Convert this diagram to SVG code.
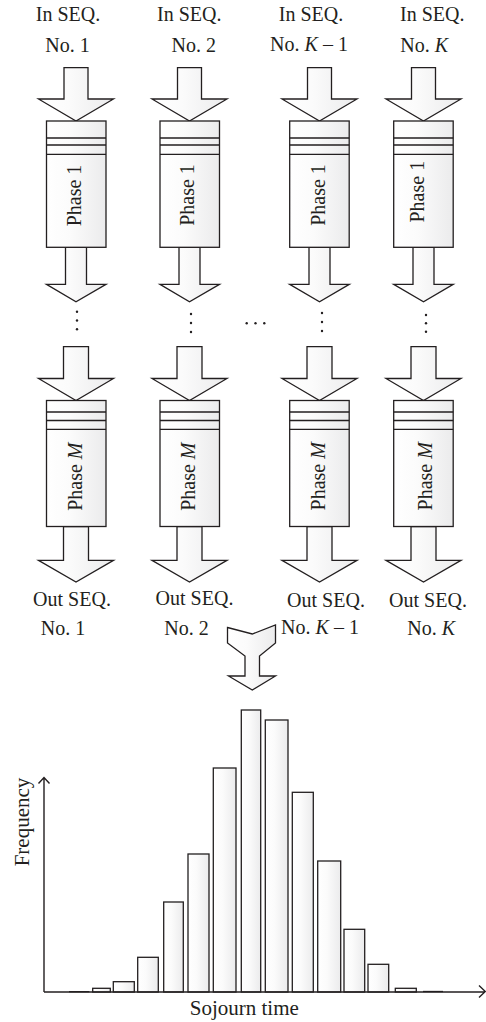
<svg xmlns="http://www.w3.org/2000/svg" width="486" height="1022" viewBox="0 0 486 1022">
  <defs>
    <linearGradient id="shade" x1="0" y1="0" x2="1" y2="0">
      <stop offset="0" stop-color="#ffffff"/>
      <stop offset="0.4" stop-color="#fbfbfb"/>
      <stop offset="1" stop-color="#ebebec"/>
    </linearGradient>
  </defs>
  <style>
    .shape { fill: url(#shade); stroke: #231f20; stroke-width: 1.3; stroke-linejoin: miter; }
    .rule { stroke: #231f20; stroke-width: 1.3; fill: none; }
    .lbl { font-family: "Liberation Serif", "Times New Roman", serif; font-size: 20px; fill: #231f20; }
    .mid { text-anchor: middle; }
    .it { font-style: italic; }
    .dot { fill: #231f20; }
    .axis { stroke: #231f20; stroke-width: 1.4; fill: none; }
  </style>

  <rect width="486" height="1022" fill="#ffffff"/>

  <!-- Input labels -->
  <g id="labels-in">
    <text class="lbl mid" x="68" y="21">In SEQ.</text>
    <text class="lbl mid" x="67.5" y="51.5">No. 1</text>
    <text class="lbl mid" x="189.3" y="21">In SEQ.</text>
    <text class="lbl mid" x="193.8" y="51.5">No. 2</text>
    <text class="lbl mid" x="311" y="21">In SEQ.</text>
    <text class="lbl mid" x="309" y="51">No. <tspan class="it">K</tspan> – 1</text>
    <text class="lbl mid" x="432.3" y="21">In SEQ.</text>
    <text class="lbl" x="400.3" y="51.5">No. <tspan class="it">K</tspan></text>
  </g>

  <!-- Connectors: block arrows between stages -->
  <g id="connectors">
    <!-- into phase 1 -->
    <path class="shape" d="M64,67.7 H88 V99 H113.5 L76,121 L38.5,99 H64 Z"/>
    <path class="shape" d="M177.5,67.7 H201.5 V99 H227 L189.5,121 L152,99 H177.5 Z"/>
    <path class="shape" d="M307.5,67.7 H331.5 V99 H357 L319.5,121 L282,99 H307.5 Z"/>
    <path class="shape" d="M411.5,67.7 H435.5 V99 H461 L423.5,121 L386,99 H411.5 Z"/>
    <!-- out of phase 1 -->
    <path class="shape" d="M65.5,247.3 H86.5 V284.3 H106 L76,301.7 L46.5,284.3 H65.5 Z"/>
    <path class="shape" d="M179,247.3 H200 V284.3 H219.5 L189.5,301.7 L160,284.3 H179 Z"/>
    <path class="shape" d="M309,247.3 H330 V284.3 H349.3 L319.5,301.7 L289.7,284.3 H309 Z"/>
    <path class="shape" d="M413,247.3 H434 V284.3 H453.2 L423.5,301.7 L393.7,284.3 H413 Z"/>
    <!-- into phase M -->
    <path class="shape" d="M63.5,346.7 H88.5 V378.5 H113.5 L76,400.5 L38.5,378.5 H63.5 Z"/>
    <path class="shape" d="M177,346.7 H202 V378.5 H227 L189.5,400.5 L152,378.5 H177 Z"/>
    <path class="shape" d="M307,346.7 H332 V378.5 H357 L319.5,400.5 L282,378.5 H307 Z"/>
    <path class="shape" d="M411,346.7 H436 V378.5 H461 L423.5,400.5 L386,378.5 H411 Z"/>
    <!-- out of phase M -->
    <path class="shape" d="M63.5,526.5 H88.5 V560.3 H113.5 L76,582 L38.5,560.3 H63.5 Z"/>
    <path class="shape" d="M177,526.5 H202 V560.3 H227 L189.5,582 L152,560.3 H177 Z"/>
    <path class="shape" d="M307,526.5 H332 V560.3 H357 L319.5,582 L282,560.3 H307 Z"/>
    <path class="shape" d="M411,526.5 H436 V560.3 H461 L423.5,582 L386,560.3 H411 Z"/>
    <!-- merge of all output sequences into the histogram -->
    <path class="shape" d="M227.5,627.5 L252.3,634 L275.5,625 V643 L259.5,656 V676 H275.5 L252.3,690 L228.5,676 H245 V656 L227.5,643 Z"/>
  </g>

  <!-- Phase 1 stations -->
  <g id="phase1-seq1">
    <rect class="shape" x="46.5" y="121" width="59.5" height="126.3"/>
    <path class="rule" d="M46.5,138 H106 M46.5,145 H106 M46.5,154.3 H106"/>
    <text class="lbl mid" transform="translate(81,195.5) rotate(-90)">Phase 1</text>
  </g>
  <g id="phase1-seq2">
    <rect class="shape" x="160" y="121" width="59.5" height="126.3"/>
    <path class="rule" d="M160,138 H219.5 M160,145 H219.5 M160,154.3 H219.5"/>
    <text class="lbl mid" transform="translate(194,195) rotate(-90)">Phase 1</text>
  </g>
  <g id="phase1-seqK-1">
    <rect class="shape" x="289.7" y="121" width="59.5" height="126.3"/>
    <path class="rule" d="M289.7,138 H349.2 M289.7,145 H349.2 M289.7,154.3 H349.2"/>
    <text class="lbl mid" transform="translate(325,195) rotate(-90)">Phase 1</text>
  </g>
  <g id="phase1-seqK">
    <rect class="shape" x="393.7" y="121" width="59.5" height="126.3"/>
    <path class="rule" d="M393.7,138 H453.2 M393.7,145 H453.2 M393.7,154.3 H453.2"/>
    <text class="lbl mid" transform="translate(423.5,191.7) rotate(-90)">Phase 1</text>
  </g>

  <!-- Intermediate phases elided -->
  <g id="ellipsis">
    <circle class="dot" cx="77" cy="311.7" r="1.2"/>
    <circle class="dot" cx="77" cy="320.5" r="1.2"/>
    <circle class="dot" cx="77" cy="329.3" r="1.2"/>
    <circle class="dot" cx="191" cy="314" r="1.2"/>
    <circle class="dot" cx="191" cy="323" r="1.2"/>
    <circle class="dot" cx="191" cy="332" r="1.2"/>
    <circle class="dot" cx="322" cy="313" r="1.2"/>
    <circle class="dot" cx="322" cy="322" r="1.2"/>
    <circle class="dot" cx="322" cy="331" r="1.2"/>
    <circle class="dot" cx="426" cy="315" r="1.2"/>
    <circle class="dot" cx="426" cy="323.3" r="1.2"/>
    <circle class="dot" cx="426" cy="331.7" r="1.2"/>
    <circle class="dot" cx="246.7" cy="323.3" r="1.2"/>
    <circle class="dot" cx="255.5" cy="323.3" r="1.2"/>
    <circle class="dot" cx="264.3" cy="323.3" r="1.2"/>
  </g>

  <!-- Phase M stations -->
  <g id="phaseM-seq1">
    <rect class="shape" x="46.5" y="400.5" width="59.5" height="126"/>
    <path class="rule" d="M46.5,412 H106 M46.5,420.5 H106 M46.5,429.3 H106"/>
    <text class="lbl mid" transform="translate(81.5,476.7) rotate(-90)">Phase <tspan class="it">M</tspan></text>
  </g>
  <g id="phaseM-seq2">
    <rect class="shape" x="160" y="400.5" width="59.5" height="126"/>
    <path class="rule" d="M160,412 H219.5 M160,420.5 H219.5 M160,429.3 H219.5"/>
    <text class="lbl mid" transform="translate(194.5,476.7) rotate(-90)">Phase <tspan class="it">M</tspan></text>
  </g>
  <g id="phaseM-seqK-1">
    <rect class="shape" x="289.7" y="400.5" width="59.5" height="126"/>
    <path class="rule" d="M289.7,412 H349.2 M289.7,420.5 H349.2 M289.7,429.3 H349.2"/>
    <text class="lbl mid" transform="translate(325,476.3) rotate(-90)">Phase <tspan class="it">M</tspan></text>
  </g>
  <g id="phaseM-seqK">
    <rect class="shape" x="393.7" y="400.5" width="59.5" height="126"/>
    <path class="rule" d="M393.7,412 H453.2 M393.7,420.5 H453.2 M393.7,429.3 H453.2"/>
    <text class="lbl mid" transform="translate(432,476.3) rotate(-90)">Phase <tspan class="it">M</tspan></text>
  </g>

  <!-- Output labels -->
  <g id="labels-out">
    <text class="lbl mid" x="72" y="605.5">Out SEQ.</text>
    <text class="lbl mid" x="63" y="635">No. 1</text>
    <text class="lbl mid" x="194.5" y="605">Out SEQ.</text>
    <text class="lbl mid" x="186.5" y="635">No. 2</text>
    <text class="lbl mid" x="326" y="607">Out SEQ.</text>
    <text class="lbl mid" x="320" y="633.5">No. <tspan class="it">K</tspan> – 1</text>
    <text class="lbl mid" x="428" y="607">Out SEQ.</text>
    <text class="lbl" x="407.3" y="635">No. <tspan class="it">K</tspan></text>
  </g>

  <!-- Sojourn time histogram -->
  <g id="histogram">
    <g id="bars">
      <path class="rule" d="M69,991.7 H89.3" stroke-width="1.6"/>
      <rect class="shape" x="92.7" y="988.3" width="17.6" height="3.7"/>
      <rect class="shape" x="113.3" y="981.7" width="21" height="10.3"/>
      <rect class="shape" x="137.7" y="957.3" width="20.6" height="34.7"/>
      <rect class="shape" x="163.7" y="902" width="19.6" height="90"/>
      <rect class="shape" x="188" y="854" width="21" height="138"/>
      <rect class="shape" x="213.3" y="768" width="22.7" height="224"/>
      <rect class="shape" x="241.3" y="710" width="19.4" height="282"/>
      <rect class="shape" x="265.3" y="720" width="22.7" height="272"/>
      <rect class="shape" x="292.3" y="792.3" width="21" height="199.7"/>
      <rect class="shape" x="317.7" y="861" width="23" height="131"/>
      <rect class="shape" x="344" y="929.3" width="20.7" height="62.7"/>
      <rect class="shape" x="368" y="964.3" width="20.7" height="27.7"/>
      <rect class="shape" x="395.3" y="988.3" width="21" height="3.7"/>
      <path class="rule" d="M423,991.5 H443" stroke-width="1.6"/>
    </g>
    <g id="axes">
      <path class="axis" d="M44,992 V777.5 M38.5,783.5 L44,777.5 L49.5,783.5"/>
      <path class="axis" d="M44,992 H485 M479,985.5 L485.3,991.5 L479,997.5"/>
    </g>
    <text class="lbl mid" style="font-size:21px" transform="translate(28.5,822) rotate(-90)">Frequency</text>
    <text class="lbl mid" style="font-size:21px" x="244.3" y="1015">Sojourn time</text>
  </g>
</svg>
